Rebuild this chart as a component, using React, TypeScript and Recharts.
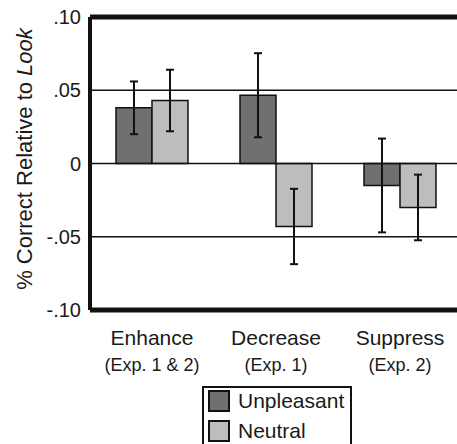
import React from 'react';
import {
  BarChart,
  Bar,
  XAxis,
  YAxis,
  ErrorBar,
  ReferenceLine,
  Legend,
} from 'recharts';

const categories = ['Enhance', 'Decrease', 'Suppress'];
const subLabels = ['(Exp. 1 & 2)', '(Exp. 1)', '(Exp. 2)'];
const unpleasant = [0.038, 0.0466, -0.015];
const unpleasantErr = [0.018, 0.0287, 0.032];
const neutral = [0.043, -0.043, -0.03];
const neutralErr = [0.021, 0.0257, 0.0224];
const yTicks = [-0.1, -0.05, 0, 0.05, 0.1];
const gridLines = [0.05, 0, -0.05];

const FONT = '"Liberation Sans", Arial, sans-serif';
const DARK = '#707070';
const LIGHT = '#bdbdbd';

const data = categories.map((name, i) => ({
  name,
  sub: subLabels[i],
  unpleasant: unpleasant[i],
  unpleasantErr: unpleasantErr[i],
  neutral: neutral[i],
  neutralErr: neutralErr[i],
}));

const fmtTick = (v: number) => {
  if (v === 0) return '0';
  return (v < 0 ? '-' : '') + Math.abs(v).toFixed(2).replace(/^0/, '');
};

// two-line category label: name + experiment
function CategoryTick(props: any) {
  const { x, y, payload } = props;
  const idx = categories.indexOf(payload.value);
  return (
    <g>
      <text x={x} y={y + 35} textAnchor="middle" fontSize={21} fill="#1a1a1a" fontFamily={FONT}>
        {payload.value}
      </text>
      <text x={x} y={y + 61} textAnchor="middle" fontSize={18} fill="#1a1a1a" fontFamily={FONT}>
        {subLabels[idx]}
      </text>
    </g>
  );
}

function YLabel() {
  return (
    <text
      x={32}
      y={159}
      transform="rotate(-90, 32, 159)"
      textAnchor="middle"
      fontSize={22}
      fill="#1a1a1a"
      fontFamily={FONT}
    >
      % Correct Relative to <tspan fontStyle="italic">Look</tspan>
    </text>
  );
}

function LegendBox() {
  const items = [
    { label: 'Unpleasant', color: DARK },
    { label: 'Neutral', color: LIGHT },
  ];
  return (
    <div
      style={{
        border: '2px solid #111',
        width: 150,
        height: 66,
        padding: '2px 4px 0 4px',
        boxSizing: 'border-box',
        fontFamily: FONT,
        fontSize: 21,
        color: '#1a1a1a',
        background: '#fff',
      }}
    >
      {items.map((it) => (
        <div key={it.label} style={{ display: 'flex', alignItems: 'flex-start', height: 30, lineHeight: '22px' }}>
          <span
            style={{
              display: 'inline-block',
              width: 22,
              height: 22,
              boxSizing: 'border-box',
              border: '2px solid #111',
              background: it.color,
              marginRight: 8,
              flexShrink: 0,
            }}
          />
          {it.label}
        </div>
      ))}
    </div>
  );
}

export default function App() {
  return (
    <div
      style={{
        position: 'absolute',
        left: 0,
        top: 0,
        width: 457,
        height: 444,
        overflow: 'hidden',
        background: '#fff',
      }}
    >
      <BarChart
        width={470}
        height={444}
        data={data}
        margin={{ top: 17, right: 8, bottom: 64, left: 0 }}
        barGap={0}
        barSize={36}
      >
        {gridLines.map((v) => (
          <ReferenceLine key={v} y={v} stroke="#111" strokeWidth={1.5} />
        ))}
        <XAxis
          dataKey="name"
          axisLine={false}
          tickLine={false}
          tickSize={0}
          tickMargin={0}
          height={70}
          interval={0}
          tick={<CategoryTick />}
        />
        <YAxis
          width={90}
          domain={[-0.1, 0.1]}
          ticks={yTicks}
          tickFormatter={fmtTick}
          axisLine={{ stroke: '#111', strokeWidth: 4 }}
          tickLine={false}
          tickSize={0}
          tickMargin={9}
          tick={{ fontSize: 20, fill: '#1a1a1a', fontFamily: FONT }}
          label={<YLabel />}
        />
        <Bar dataKey="unpleasant" fill={DARK} stroke="#111" strokeWidth={1.5} isAnimationActive={false}>
          <ErrorBar dataKey="unpleasantErr" width={4} stroke="#111" strokeWidth={2} direction="y" isAnimationActive={false} />
        </Bar>
        <Bar dataKey="neutral" fill={LIGHT} stroke="#111" strokeWidth={1.5} isAnimationActive={false}>
          <ErrorBar dataKey="neutralErr" width={4} stroke="#111" strokeWidth={2} direction="y" isAnimationActive={false} />
        </Bar>
        <ReferenceLine y={0.1} stroke="#111" strokeWidth={5} />
        <ReferenceLine y={-0.1} stroke="#111" strokeWidth={5} />
        <Legend
          layout="horizontal"
          verticalAlign="middle"
          align="center"
          wrapperStyle={{ left: 202, top: 386, width: 150 }}
          content={() => <LegendBox />}
        />
      </BarChart>
    </div>
  );
}
